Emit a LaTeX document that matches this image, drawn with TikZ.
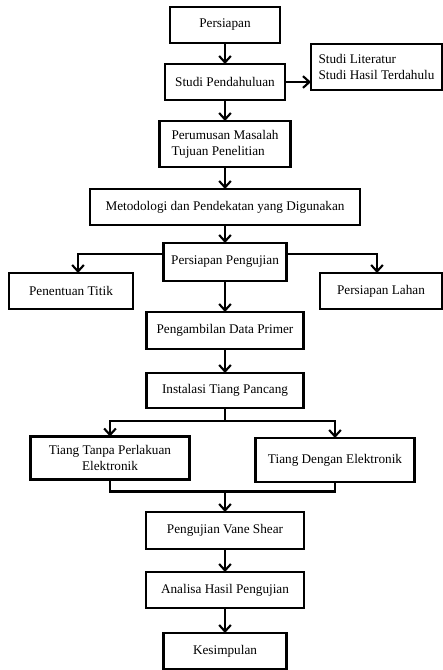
\documentclass[tikz,border=0pt]{standalone}
\usepackage{fontspec}
\setmainfont{Liberation Serif}
\usetikzlibrary{positioning,arrows.meta,shadows}

\begin{document}
\begin{tikzpicture}[>={Straight Barb[length=5.5pt,width=10pt,line width=1.8pt]}, line width=1.8pt,
        box/.style={rectangle, draw, line width=2.1pt, fill=white, outer sep=0pt,
                    font=\fontsize{11.3}{13.5}\selectfont, align=center, minimum height=1.08cm,
                    drop shadow={shadow xshift=1.2pt, shadow yshift=-1.2pt, fill=black!40}}]
        \useasboundingbox (0,0) rectangle (13.29,-20.1);

        \node[box, minimum width=3.3cm] (persiapan) at (6.75,-0.75) {Persiapan};
        \node[box, minimum width=3.6cm, below=0.63cm of persiapan] (studi) {Studi Pendahuluan};
        \node[box, minimum width=3.93cm, minimum height=1.38cm, align=left, right=0.78cm of studi, yshift=0.45cm] (literatur) {Studi Literatur\\Studi Hasil Terdahulu};
        \node[box, minimum width=3.93cm, minimum height=1.38cm, align=left, below=0.63cm of studi] (rumusan) {Perumusan Masalah\\Tujuan Penelitian};
        \node[box, minimum width=8.1cm, below=0.66cm of rumusan] (metode) {Metodologi dan Pendekatan yang Digunakan};
        \node[box, minimum width=3.69cm, minimum height=1.14cm, below=0.54cm of metode] (pengujian) {Persiapan Pengujian};
        \node[box, minimum width=3.72cm] (titik) at (2.13,-8.73) {Penentuan Titik};
        \node[box, minimum width=3.66cm] (lahan) at (11.43,-8.73) {Persiapan Lahan};
        \node[box, minimum width=4.71cm, minimum height=1.11cm, below=0.93cm of pengujian] (data) {Pengambilan Data Primer};
        \node[box, minimum width=4.71cm, minimum height=1.05cm, below=0.72cm of data] (instalasi) {Instalasi Tiang Pancang};
        \node[box, minimum width=4.77cm, minimum height=1.29cm] (tanpa) at (3.3,-13.74) {Tiang Tanpa Perlakuan\\Elektronik};
        \node[box, minimum width=4.77cm, minimum height=1.32cm] (dengan) at (10.05,-13.8) {Tiang Dengan Elektronik};
        \node[box, minimum width=4.74cm, minimum height=1.11cm, below=3.12cm of instalasi] (vane) {Pengujian Vane Shear};
        \node[box, minimum width=4.74cm, below=0.69cm of vane] (analisa) {Analisa Hasil Pengujian};
        \node[box, minimum width=3.69cm, minimum height=1.08cm, below=0.75cm of analisa] (simpulan) {Kesimpulan};

        \draw[->] (persiapan) -- (studi);
        \draw[->] (studi.east) -- (studi.east -| literatur.west);
        \draw[->] (studi) -- (rumusan);
        \draw[->] (rumusan) -- (metode);
        \draw[->] (metode) -- (pengujian);
        \draw[->] ([yshift=0.24cm]pengujian.west) -| ([xshift=0.21cm]titik.north);
        \draw[->] ([yshift=0.24cm]pengujian.east) -| ([xshift=-0.12cm]lahan.north);
        \draw[->] (pengujian) -- (data);
        \draw[->] (data) -- (instalasi);
        \draw (instalasi.south) -- ++(0,-0.39) coordinate (bagi);
        \draw[->] (bagi) -| (tanpa.north);
        \draw[->] (bagi) -| (dengan.north);
        \draw (tanpa.south) -- ++(0,-0.36) coordinate (gabung) -| (dengan.south);
        \draw[->] (gabung -| vane.north) -- (vane.north);
        \draw[->] (vane) -- (analisa);
        \draw[->] (analisa) -- (simpulan);
    \end{tikzpicture}
\end{document}
